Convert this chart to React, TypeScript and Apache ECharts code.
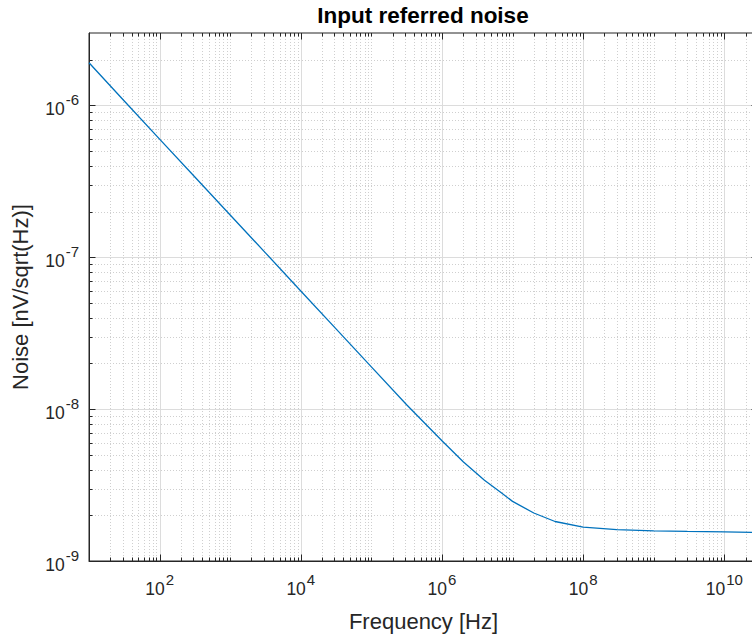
import React, { useEffect, useRef } from 'react';
import * as echarts from 'echarts';

// Curve (frequency in Hz, noise in nV/sqrt(Hz))
const frequencyHz = [10, 31.6, 100, 316, 1e3, 3.16e3, 1e4, 3.16e4, 1e5, 3.16e5, 1e6, 2e6, 4e6, 7e6, 1e7, 2e7, 4e7, 1e8, 3e8, 1e9, 3e9, 1e10, 3e10];
const noiseValues = [1.91e-6, 1.07e-6, 6.0e-7, 3.38e-7, 1.9e-7, 1.07e-7, 6.0e-8, 3.38e-8, 1.9e-8, 1.07e-8, 6.2e-9, 4.5e-9, 3.4e-9, 2.8e-9, 2.47e-9, 2.07e-9, 1.82e-9, 1.67e-9, 1.61e-9, 1.58e-9, 1.565e-9, 1.555e-9, 1.54e-9];

// Axis ranges and decades
const xMin = 10;
const xMax = 3e10;
const yMin = 1e-9;
const yMax = 3e-6;
const xDecades = [1, 2, 3, 4, 5, 6, 7, 8, 9, 10];
const yDecades = [-9, -8, -7, -6];
const xLabelExponents = [2, 4, 6, 8, 10];
const mantissas = [1, 2, 3, 4, 5, 6, 7, 8, 9];

const FONT = '"Liberation Sans", Arial, Helvetica, sans-serif';
const TEXT = '#262626';

function buildXTicks() {
  const out: number[][] = [];
  xDecades.forEach((k) => {
    mantissas.forEach((m) => {
      const v = m * Math.pow(10, k);
      if (v <= xMin || v >= xMax) return;
      const major = m === 1 && xLabelExponents.indexOf(k) >= 0 ? 1 : 0;
      out.push([v, yMin, major]);
    });
  });
  return out;
}

function buildYTicks() {
  const out: number[][] = [];
  yDecades.forEach((k) => {
    mantissas.forEach((m) => {
      const v = m * Math.pow(10, k);
      if (v <= yMin || v >= yMax) return;
      out.push([xMin, v, m === 1 ? 1 : 0]);
    });
  });
  return out;
}

function powLabel(v: number, evenOnly: boolean) {
  const e = Math.log10(v);
  const r = Math.round(e);
  if (Math.abs(e - r) > 1e-6) return '';
  if (evenOnly && r % 2 !== 0) return '';
  return `{b|10}{s|${r}}`;
}

const richLabel = {
  b: { fontFamily: FONT, fontSize: 17.5, color: TEXT, lineHeight: 26, verticalAlign: 'bottom' },
  s: { fontFamily: FONT, fontSize: 15, color: TEXT, lineHeight: 17, verticalAlign: 'top', padding: [0, 0, 0, 1] },
};

export default function App() {
  const ref = useRef<HTMLDivElement>(null);

  useEffect(() => {
    if (!ref.current) return;
    const chart = echarts.init(ref.current, undefined, { renderer: 'svg' });
    const seriesData = frequencyHz.map((f, i) => [f, noiseValues[i]]);

    chart.setOption({
      animation: false,
      backgroundColor: '#ffffff',
      title: {
        text: 'Input referred noise',
        left: 423,
        top: 4,
        textAlign: 'center',
        padding: 0,
        textStyle: { fontFamily: FONT, fontSize: 22.5, fontWeight: 'bold', color: '#000000' },
      },
      grid: {
        left: 89,
        top: 33,
        width: 669,
        height: 528,
        outerBoundsMode: 'none',
        containLabel: false,
        show: true,
        borderColor: TEXT,
        borderWidth: 1,
        backgroundColor: '#ffffff',
      },
      xAxis: {
        type: 'log',
        logBase: 10,
        min: xMin,
        max: xMax,
        name: 'Frequency [Hz]',
        nameLocation: 'middle',
        nameGap: 49,
        nameTextStyle: { fontFamily: FONT, fontSize: 22, color: TEXT },
        axisLine: { show: true, lineStyle: { color: TEXT, width: 1 } },
        axisTick: { show: false },
        splitLine: { show: false },
        minorTick: { show: false },
        axisLabel: {
          interval: 0,
          margin: 11,
          showMinLabel: true,
          showMaxLabel: false,
          hideOverlap: false,
          formatter: (v: number) => powLabel(v, true),
          rich: richLabel,
        },
      },
      yAxis: {
        type: 'log',
        logBase: 10,
        min: yMin,
        max: yMax,
        name: 'Noise [nV/sqrt(Hz)]',
        nameLocation: 'middle',
        nameGap: 58,
        nameTextStyle: { fontFamily: FONT, fontSize: 22, color: TEXT },
        axisLine: { show: true, lineStyle: { color: TEXT, width: 1 } },
        axisTick: { show: false },
        splitLine: { show: false },
        minorTick: { show: false },
        axisLabel: {
          interval: 0,
          margin: 10,
          showMaxLabel: false,
          hideOverlap: false,
          formatter: (v: number) => powLabel(v, false),
          rich: richLabel,
        },
      },
      series: [
        {
          type: 'custom',
          name: 'xgrid',
          silent: true,
          z: 1,
          clip: false,
          data: buildXTicks(),
          renderItem: (params: any, api: any) => {
            const v = api.value(0);
            const major = api.value(2) === 1;
            const cs = params.coordSys;
            const px = Math.round(api.coord([v, yMin])[0]) + 0.5;
            const top = cs.y;
            const bot = cs.y + cs.height;
            const len = major ? 6.5 : 3.5;
            const gridStyle: any = major
              ? { stroke: '#dcdcdc', lineWidth: 1 }
              : { stroke: '#cfcfcf', lineWidth: 1, lineDash: [1, 2] };
            return {
              type: 'group',
              children: [
                { type: 'line', shape: { x1: px, y1: top, x2: px, y2: bot }, style: gridStyle },
                { type: 'line', shape: { x1: px, y1: bot, x2: px, y2: bot - len }, style: { stroke: TEXT, lineWidth: 1 } },
                { type: 'line', shape: { x1: px, y1: top, x2: px, y2: top + len }, style: { stroke: TEXT, lineWidth: 1 } },
              ],
            };
          },
        },
        {
          type: 'custom',
          name: 'ygrid',
          silent: true,
          z: 1,
          clip: false,
          data: buildYTicks(),
          renderItem: (params: any, api: any) => {
            const v = api.value(1);
            const major = api.value(2) === 1;
            const cs = params.coordSys;
            const py = Math.round(api.coord([xMin, v])[1]) + 0.5;
            const left = cs.x;
            const right = cs.x + cs.width;
            const len = major ? 6.5 : 3.5;
            const gridStyle: any = major
              ? { stroke: '#dcdcdc', lineWidth: 1 }
              : { stroke: '#cfcfcf', lineWidth: 1, lineDash: [1, 2] };
            return {
              type: 'group',
              children: [
                { type: 'line', shape: { x1: left, y1: py, x2: right, y2: py }, style: gridStyle },
                { type: 'line', shape: { x1: left, y1: py, x2: left + len, y2: py }, style: { stroke: TEXT, lineWidth: 1 } },
                { type: 'line', shape: { x1: right, y1: py, x2: right - len, y2: py }, style: { stroke: TEXT, lineWidth: 1 } },
              ],
            };
          },
        },
        {
          type: 'line',
          name: 'Noise',
          z: 5,
          data: seriesData,
          showSymbol: false,
          symbol: 'none',
          smooth: false,
          lineStyle: { color: '#0072BD', width: 1.3 },
          itemStyle: { color: '#0072BD' },
        },
      ],
    });

    return () => chart.dispose();
  }, []);

  return (
    <div
      ref={ref}
      style={{ position: 'absolute', left: 0, top: 0, width: 752, height: 637 }}
    />
  );
}
